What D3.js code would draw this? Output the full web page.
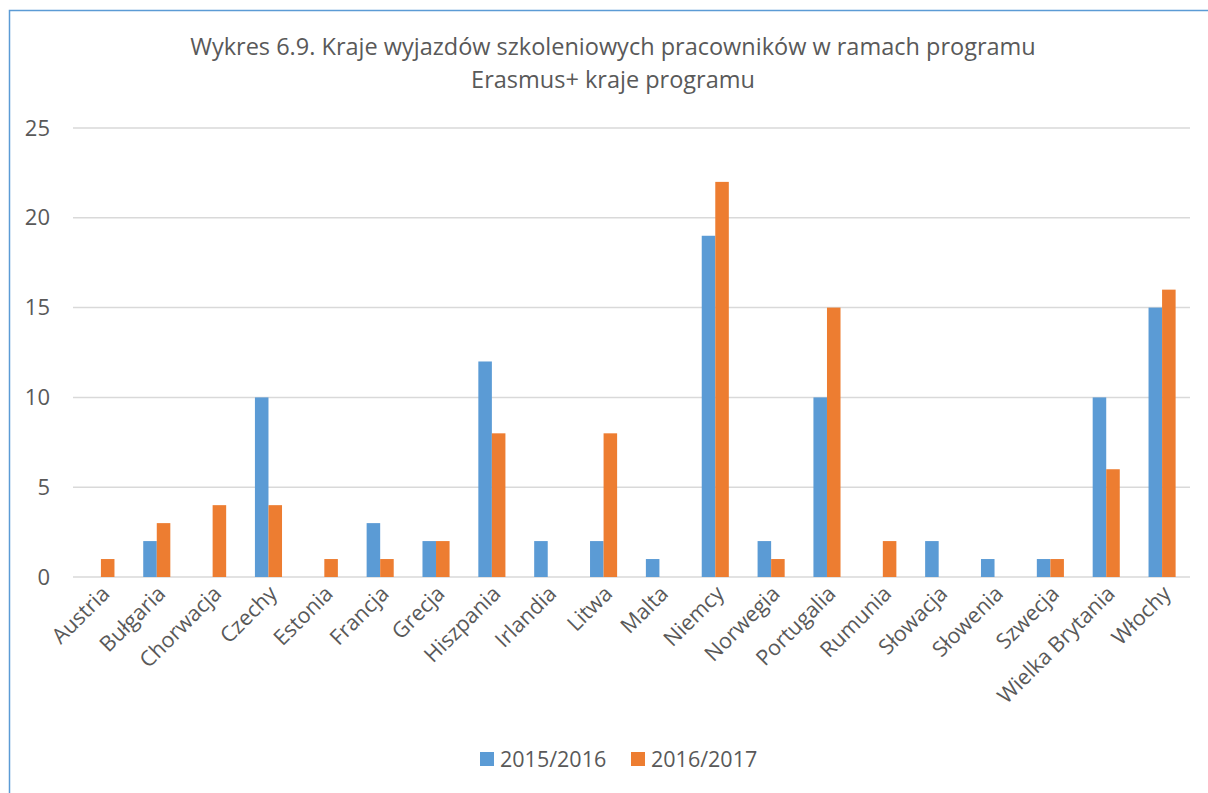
<!DOCTYPE html>
<html>
<head>
<meta charset="utf-8">
<script src="https://cdn.jsdelivr.net/npm/d3@7"></script>
<style>
  body { margin: 0; background: #fff; }
  text { font-family: "Open Sans", sans-serif; fill: #595959; }
</style>
</head>
<body>
<div id="chart"></div>
<script>
// countries (x axis)
var countries = ["Austria", "Bułgaria", "Chorwacja", "Czechy", "Estonia", "Francja", "Grecja",
  "Hiszpania", "Irlandia", "Litwa", "Malta", "Niemcy", "Norwegia", "Portugalia", "Rumunia",
  "Słowacja", "Słowenia", "Szwecja", "Wielka Brytania", "Włochy"];

// 2015/2016 values
var y2015 = [0, 2, 0, 10, 0, 3, 2, 12, 2, 2, 1, 19, 2, 10, 0, 2, 1, 1, 10, 15];
// 2016/2017 values
var y2016 = [1, 3, 4, 4, 1, 1, 2, 8, 0, 8, 0, 22, 1, 15, 2, 0, 0, 1, 6, 16];

var seriesNames = ["2015/2016", "2016/2017"];
var colors = ["#5b9bd5", "#ed7d31"];
var yTicks = [0, 5, 10, 15, 20, 25];

var W = 1208, H = 793;
var margin = {top: 128, right: 18, bottom: 216, left: 73};
var width = W - margin.left - margin.right;
var height = H - margin.top - margin.bottom;

var svg = d3.select("#chart").append("svg")
    .attr("width", W)
    .attr("height", H);

// outer frame (right side is cut off in the original)
svg.append("path")
    .attr("d", "M9.5," + H + " V10.5 H" + W)
    .attr("fill", "none")
    .attr("stroke", "#5b9bd5")
    .attr("stroke-width", 1.5);

// title
svg.append("text")
    .attr("x", 613).attr("y", 55)
    .attr("text-anchor", "middle")
    .style("font-size", "23.5px")
    .text("Wykres 6.9. Kraje wyjazdów szkoleniowych pracowników w ramach programu");
svg.append("text")
    .attr("x", 613).attr("y", 88)
    .attr("text-anchor", "middle")
    .style("font-size", "23.5px")
    .text("Erasmus+ kraje programu");

var g = svg.append("g")
    .attr("transform", "translate(" + margin.left + "," + margin.top + ")");

var x0 = d3.scaleBand()
    .domain(countries)
    .range([0, width])
    .paddingInner(0.515)
    .paddingOuter(0.2575);

var x1 = d3.scaleBand()
    .domain(seriesNames)
    .range([0, x0.bandwidth()]);

var y = d3.scaleLinear()
    .domain([0, 25])
    .range([height, 0]);

// gridlines
g.selectAll(".grid")
    .data(yTicks)
    .enter()
    .append("line")
    .attr("x1", 0).attr("x2", width)
    .attr("y1", function(d) { return y(d); })
    .attr("y2", function(d) { return y(d); })
    .attr("stroke", "#d9d9d9")
    .attr("stroke-width", 1.5);

// y axis labels
var yAxis = g.append("g")
    .attr("transform", "translate(-11,0)")
    .call(d3.axisLeft(y).tickValues(yTicks).tickSize(0).tickPadding(12));
yAxis.select(".domain").remove();
yAxis.selectAll("text")
    .style("font-size", "22px")
    .style("font-family", "'Open Sans', sans-serif")
    .attr("fill", "#595959");

// bars
var groups = g.selectAll(".country")
    .data(countries)
    .enter()
    .append("g")
    .attr("transform", function(d) { return "translate(" + x0(d) + ",0)"; });

groups.selectAll("rect")
    .data(function(d, i) {
        return [
            {s: seriesNames[0], v: y2015[i], c: colors[0]},
            {s: seriesNames[1], v: y2016[i], c: colors[1]}
        ];
    })
    .enter()
    .append("rect")
    .attr("x", function(d) { return x1(d.s); })
    .attr("width", x1.bandwidth())
    .attr("y", function(d) { return y(d.v); })
    .attr("height", function(d) { return height - y(d.v); })
    .attr("fill", function(d) { return d.c; });

// x axis labels
var xAxis = g.append("g")
    .attr("transform", "translate(0," + height + ")")
    .call(d3.axisBottom(x0).tickSize(0).tickPadding(0));
xAxis.select(".domain").remove();
xAxis.selectAll("text")
    .style("font-size", "21.5px")
    .style("font-family", "'Open Sans', sans-serif")
    .attr("fill", "#595959")
    .attr("text-anchor", "end")
    .attr("dy", null)
    .attr("transform", "translate(10,18) rotate(-45)");

// legend
var legend = svg.append("g")
    .attr("transform", "translate(480,752)");
var items = legend.selectAll(".item")
    .data(seriesNames)
    .enter()
    .append("g")
    .attr("transform", function(d, i) { return "translate(" + (i * 151) + ",0)"; });
items.append("rect")
    .attr("width", 14).attr("height", 14)
    .attr("fill", function(d, i) { return colors[i]; });
items.append("text")
    .attr("x", 20).attr("y", 15)
    .style("font-size", "21.5px")
    .text(function(d) { return d; });
</script>
</body>
</html>
